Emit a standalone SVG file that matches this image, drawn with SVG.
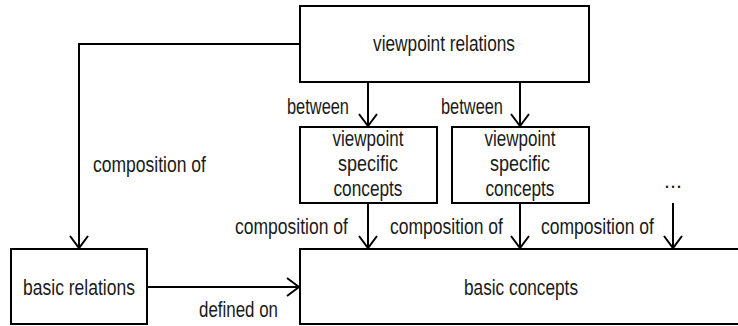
<svg xmlns="http://www.w3.org/2000/svg" width="738" height="326" viewBox="0 0 738 326">
  <style>
    .box { fill: #ffffff; stroke: #000000; stroke-width: 2; }
    .edge { fill: none; stroke: #000000; stroke-width: 2; }
    text { font-family: "Liberation Sans Narrow", "Liberation Sans", Arial, sans-serif; font-size: 21.5px; fill: #1a1a1a; }
    .c { text-anchor: middle; }
  </style>
  <defs>
    <marker id="open-arrow" markerUnits="userSpaceOnUse" markerWidth="24" markerHeight="24" viewBox="-14 -12 16 24" refX="0" refY="0" orient="auto">
      <path d="M -12 -9 L 0 0 L -12 9" fill="none" stroke="#000000" stroke-width="2"/>
    </marker>
  </defs>
  <rect width="738" height="326" fill="#ffffff"/>

  <g id="viewpoint-relations">
    <rect class="box" x="300" y="6" width="289" height="76"/>
    <text class="c" x="444" y="51" textLength="142" lengthAdjust="spacingAndGlyphs">viewpoint relations</text>
  </g>

  <g id="viewpoint-specific-concepts-1">
    <rect class="box" x="300" y="127" width="137" height="76"/>
    <text class="c" x="368" y="146" textLength="71" lengthAdjust="spacingAndGlyphs">viewpoint</text>
    <text class="c" x="368" y="171" textLength="60" lengthAdjust="spacingAndGlyphs">specific</text>
    <text class="c" x="368" y="196" textLength="69" lengthAdjust="spacingAndGlyphs">concepts</text>
  </g>

  <g id="viewpoint-specific-concepts-2">
    <rect class="box" x="452" y="127" width="137" height="76"/>
    <text class="c" x="520" y="146" textLength="71" lengthAdjust="spacingAndGlyphs">viewpoint</text>
    <text class="c" x="520" y="171" textLength="60" lengthAdjust="spacingAndGlyphs">specific</text>
    <text class="c" x="520" y="196" textLength="69" lengthAdjust="spacingAndGlyphs">concepts</text>
  </g>

  <g id="more-concepts">
    <text class="c" x="673" y="188">...</text>
  </g>

  <g id="basic-relations">
    <rect class="box" x="11" y="249" width="136" height="75"/>
    <text class="c" x="79" y="295" textLength="112" lengthAdjust="spacingAndGlyphs">basic relations</text>
  </g>

  <g id="basic-concepts">
    <rect class="box" x="300" y="249" width="460" height="75"/>
    <text class="c" x="521" y="295" textLength="114" lengthAdjust="spacingAndGlyphs">basic concepts</text>
  </g>

  <g id="connectors">
    <path class="edge" d="M 300 44 H 79 V 248" marker-end="url(#open-arrow)"/>
    <path class="edge" d="M 368 82 V 126" marker-end="url(#open-arrow)"/>
    <path class="edge" d="M 520 82 V 126" marker-end="url(#open-arrow)"/>
    <path class="edge" d="M 368 203 V 248" marker-end="url(#open-arrow)"/>
    <path class="edge" d="M 520 203 V 248" marker-end="url(#open-arrow)"/>
    <path class="edge" d="M 673 203 V 248" marker-end="url(#open-arrow)"/>
    <path class="edge" d="M 147 287 H 299" marker-end="url(#open-arrow)"/>

    <text x="93" y="172" textLength="113" lengthAdjust="spacingAndGlyphs">composition of</text>
    <text x="287" y="114" textLength="62" lengthAdjust="spacingAndGlyphs">between</text>
    <text x="441" y="114" textLength="62" lengthAdjust="spacingAndGlyphs">between</text>
    <text x="235" y="234" textLength="113" lengthAdjust="spacingAndGlyphs">composition of</text>
    <text x="390" y="234" textLength="113" lengthAdjust="spacingAndGlyphs">composition of</text>
    <text x="541" y="234" textLength="113" lengthAdjust="spacingAndGlyphs">composition of</text>
    <text x="199" y="317" textLength="79" lengthAdjust="spacingAndGlyphs">defined on</text>
  </g>
</svg>
